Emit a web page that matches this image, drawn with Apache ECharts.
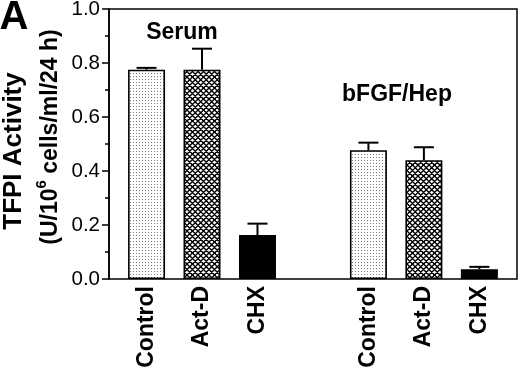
<!DOCTYPE html>
<html>
<head>
<meta charset="utf-8">
<script src="https://cdn.jsdelivr.net/npm/echarts@6/dist/echarts.min.js"></script>
<style>html,body{margin:0;padding:0;background:#fff}#c{width:520px;height:367px}</style>
</head>
<body>
<div id="c"></div>
<script>
const categories = ['Control', 'Act-D', 'CHX', '', 'Control', 'Act-D', 'CHX'];
const values = [0.775, 0.775, 0.163, null, 0.477, 0.44, 0.036];
const errors = [0.007, 0.078, 0.042, null, 0.028, 0.048, 0.009];
const groupLabels = ['Serum', 'bFGF/Hep'];
const yTickValues = [0, 0.2, 0.4, 0.6, 0.8, 1.0];

const FONT = "'Liberation Sans', Arial, Helvetica, sans-serif";

function makeDots() {
  const c = document.createElement('canvas');
  c.width = 3; c.height = 3;
  const g = c.getContext('2d');
  g.fillStyle = '#fff'; g.fillRect(0, 0, 3, 3);
  g.fillStyle = '#7a7a7a'; g.fillRect(1, 1, 1, 1);
  return c;
}
function makeHatch() {
  const s = 11, h = 5.5;
  const c = document.createElement('canvas');
  c.width = s; c.height = s;
  const g = c.getContext('2d');
  g.fillStyle = '#fff'; g.fillRect(0, 0, s, s);
  g.strokeStyle = '#000'; g.lineWidth = 1.4;
  g.beginPath();
  for (let k = -2; k <= 2; k++) {
    const o = k * h;
    g.moveTo(o - 2, -2); g.lineTo(o + s + 2, s + 2);
    g.moveTo(s + 2 - o, -2); g.lineTo(-2 - o, s + 2);
  }
  g.stroke();
  return c;
}
const fills = {
  'Control': { image: makeDots(), repeat: 'repeat' },
  'Act-D': { image: makeHatch(), repeat: 'repeat' },
  'CHX': '#000'
};

const barData = values.map((v, i) => v == null ? '-' : {
  value: v,
  itemStyle: { color: fills[categories[i]], borderColor: '#000', borderWidth: 1.6 }
});
const errData = values.map((v, i) => v == null ? [i, '-', '-'] : [i, v, errors[i]]);

const chart = echarts.init(document.getElementById('c'), null, { renderer: 'canvas' });
chart.setOption({
  animation: false,
  backgroundColor: '#fff',
  textStyle: { fontFamily: FONT },
  grid: [
    { left: 109, top: 9, width: 408, height: 270, show: true, borderColor: '#000', borderWidth: 1.5, backgroundColor: 'transparent', containLabel: false, outerBoundsMode: 'none' },
    { left: 118.8, top: 9, width: 388.3, height: 270, containLabel: false, outerBoundsMode: 'none' }
  ],
  xAxis: [
    { gridIndex: 0, type: 'value', min: 0, max: 1, show: false },
    {
      gridIndex: 1, type: 'category', data: categories,
      axisLine: { show: false }, axisTick: { show: false },
      axisLabel: { rotate: 90, margin: 7, fontSize: 23, fontWeight: 'bold', color: '#000', fontFamily: FONT, interval: 0 }
    }
  ],
  yAxis: [
    {
      gridIndex: 0, type: 'value', min: 0, max: 1, interval: 0.2,
      axisLine: { show: true, lineStyle: { color: '#000', width: 1.5 } },
      axisTick: { show: true, inside: false, length: 7, lineStyle: { color: '#000', width: 1.5 } },
      minorTick: { show: true, splitNumber: 2, length: 4, lineStyle: { color: '#000', width: 1.5 } },
      splitLine: { show: false },
      axisLabel: {
        margin: 9, fontSize: 20.5, color: '#000', fontFamily: FONT,
        formatter: v => yTickValues.some(t => Math.abs(t - v) < 1e-9) ? v.toFixed(1) : ''
      }
    },
    { gridIndex: 1, type: 'value', min: 0, max: 1, show: false }
  ],
  series: [
    {
      type: 'bar', xAxisIndex: 1, yAxisIndex: 1, data: barData, barWidth: 37, z: 2
    },
    {
      type: 'custom', xAxisIndex: 1, yAxisIndex: 1, data: errData, z: 3,
      renderItem: function (params, api) {
        const v = api.value(1), e = api.value(2);
        if (isNaN(v) || isNaN(e)) return null;
        const p0 = api.coord([api.value(0), v]);
        const p1 = api.coord([api.value(0), v + e]);
        const hw = 10;
        return {
          type: 'group',
          children: [
            { type: 'line', shape: { x1: p0[0], y1: p0[1], x2: p1[0], y2: p1[1] }, style: { stroke: '#000', lineWidth: 2 } },
            { type: 'line', shape: { x1: p1[0] - hw, y1: p1[1], x2: p1[0] + hw, y2: p1[1] }, style: { stroke: '#000', lineWidth: 2 } }
          ]
        };
      }
    }
  ],
  graphic: [
    { type: 'text', x: 14, y: 18, style: { text: 'A', fontSize: 40, fontWeight: 'bold', fontFamily: FONT, fill: '#000', align: 'center', verticalAlign: 'middle' } },
    { type: 'text', x: 182, y: 33, style: { text: groupLabels[0], fontSize: 23, fontWeight: 'bold', fontFamily: FONT, fill: '#000', align: 'center', verticalAlign: 'middle' } },
    { type: 'text', x: 397, y: 95, style: { text: groupLabels[1], fontSize: 23, fontWeight: 'bold', fontFamily: FONT, fill: '#000', align: 'center', verticalAlign: 'middle' } },
    { type: 'text', x: 14, y: 151, rotation: Math.PI / 2, style: { text: 'TFPI Activity', fontSize: 26, fontWeight: 'bold', fontFamily: FONT, fill: '#000', align: 'center', verticalAlign: 'middle' } },
    { type: 'text', x: 48, y: 137, rotation: Math.PI / 2,
      style: {
        text: '{m|(U/10}{s|6}{m| cells/ml/24 h)}', fontFamily: FONT, fill: '#000', align: 'center', verticalAlign: 'middle',
        rich: {
          m: { fontSize: 23, fontWeight: 'bold', fontFamily: FONT, fill: '#000', lineHeight: 28, verticalAlign: 'bottom' },
          s: { fontSize: 15, fontWeight: 'bold', fontFamily: FONT, fill: '#000', lineHeight: 28, verticalAlign: 'top' }
        }
      }
    }
  ]
});
</script>
</body>
</html>
